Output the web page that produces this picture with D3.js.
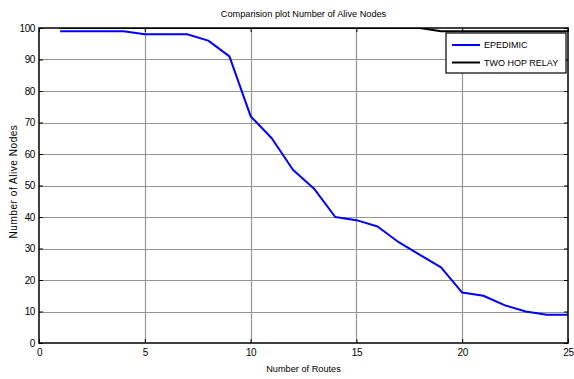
<!DOCTYPE html>
<html>
<head>
<meta charset="utf-8">
<script src="https://cdn.jsdelivr.net/npm/d3@7"></script>
<style>
  html, body { margin: 0; padding: 0; background: #fff; }
  text { font-family: "Liberation Sans", Arial, sans-serif; fill: #000; }
</style>
</head>
<body>
<svg id="chart" width="574" height="379"></svg>
<script>
// Number of routes on the x axis
const routes = [1, 2, 3, 4, 5, 6, 7, 8, 9, 10, 11, 12, 13, 14, 15, 16, 17, 18, 19, 20, 21, 22, 23, 24, 25];
// Alive nodes per protocol
const epidemic = [99, 99, 99, 99, 98, 98, 98, 96, 91, 72, 65, 55, 49, 40, 39, 37, 32, 28, 24, 16, 15, 12, 10, 9, 9];
const twoHopRelay = [100, 100, 100, 100, 100, 100, 100, 100, 100, 100, 100, 100, 100, 100, 100, 100, 100, 100, 99, 99, 99, 99, 99, 99, 99];
const xTicks = [0, 5, 10, 15, 20, 25];
const yTicks = [0, 10, 20, 30, 40, 50, 60, 70, 80, 90, 100];
const seriesNames = ["EPEDIMIC", "TWO HOP RELAY"];
const seriesColors = ["#0000ff", "#000000"];

const svg = d3.select("#chart");
const m = { left: 39, right: 6, top: 28, bottom: 36 };
const W = 574, H = 379;
const x = d3.scaleLinear().domain([0, 25]).range([m.left, W - m.right]);
const y = d3.scaleLinear().domain([0, 100]).range([H - m.bottom, m.top]);

svg.append("clipPath").attr("id", "plotClip")
  .append("rect")
  .attr("x", x(0)).attr("y", y(100))
  .attr("width", x(25) - x(0)).attr("height", y(0) - y(100));

// Grid
const grid = svg.append("g").attr("stroke", "#949494").attr("stroke-width", 1.2);
grid.selectAll("line.v").data(xTicks.slice(1, -1)).join("line")
  .attr("x1", d => Math.round(x(d)) + 0.5).attr("x2", d => Math.round(x(d)) + 0.5)
  .attr("y1", y(0)).attr("y2", y(100));
grid.selectAll("line.h").data(yTicks.slice(1, -1)).join("line")
  .attr("y1", d => Math.round(y(d)) + 0.5).attr("y2", d => Math.round(y(d)) + 0.5)
  .attr("x1", x(0)).attr("x2", x(25));

// Series lines
const line = d3.line().x((d, i) => x(routes[i])).y(d => y(d));
const plot = svg.append("g").attr("clip-path", "url(#plotClip)");
[epidemic, twoHopRelay].forEach((s, k) => {
  plot.append("path").datum(s)
    .attr("fill", "none")
    .attr("stroke", seriesColors[k])
    .attr("stroke-width", 2)
    .attr("stroke-linejoin", "round")
    .attr("d", line);
});

// Axes with inward ticks on all four sides
const tickLen = 4;
const axB = svg.append("g").attr("transform", `translate(0,${y(0)})`)
  .call(d3.axisBottom(x).tickValues(xTicks).tickSizeInner(-tickLen).tickSizeOuter(0).tickPadding(6));
const axT = svg.append("g").attr("transform", `translate(0,${y(100)})`)
  .call(d3.axisTop(x).tickValues(xTicks).tickSizeInner(-tickLen).tickSizeOuter(0).tickFormat(""));
const axL = svg.append("g").attr("transform", `translate(${x(0)},0)`)
  .call(d3.axisLeft(y).tickValues(yTicks).tickSizeInner(-tickLen).tickSizeOuter(0).tickPadding(4));
const axR = svg.append("g").attr("transform", `translate(${x(25)},0)`)
  .call(d3.axisRight(y).tickValues(yTicks).tickSizeInner(-tickLen).tickSizeOuter(0).tickFormat(""));
[axB, axT, axL, axR].forEach(a => {
  a.select(".domain").remove();
  a.selectAll(".tick line").attr("stroke", "#000").attr("stroke-width", 1);
  a.selectAll("text").attr("font-size", 10).attr("font-family", "Liberation Sans, Arial, sans-serif")
    .attr("letter-spacing", -0.4);
});
axB.selectAll("text").attr("dy", "0.71em");

// Frame
svg.append("rect")
  .attr("x", x(0)).attr("y", y(100))
  .attr("width", x(25) - x(0)).attr("height", y(0) - y(100))
  .attr("fill", "none").attr("stroke", "#000").attr("stroke-width", 1.5);

// Titles
svg.append("text").attr("x", (x(0) + x(25)) / 2).attr("y", 17)
  .attr("text-anchor", "middle").attr("font-size", 9.2)
  .text("Comparision plot Number of Alive Nodes");
svg.append("text").attr("x", (x(0) + x(25)) / 2).attr("y", 372)
  .attr("text-anchor", "middle").attr("font-size", 9.2)
  .text("Number of Routes");
svg.append("text")
  .attr("transform", `translate(16.5,${(y(0) + y(100)) / 2 - 4}) rotate(-90)`)
  .attr("text-anchor", "middle").attr("font-size", 10)
  .attr("letter-spacing", 0.55)
  .text("Number of Alive Nodes");

// Legend
const lg = svg.append("g").attr("transform", "translate(446,33)");
lg.append("rect").attr("width", 120).attr("height", 40)
  .attr("fill", "#fff").attr("stroke", "#000").attr("stroke-width", 1.2);
seriesNames.forEach((n, i) => {
  const yy = 12 + i * 17.5;
  lg.append("line").attr("x1", 6).attr("x2", 34).attr("y1", yy).attr("y2", yy)
    .attr("stroke", seriesColors[i]).attr("stroke-width", 2);
  lg.append("text").attr("x", 38).attr("y", yy).attr("dy", "0.35em")
    .attr("font-size", 9).text(n);
});
</script>
</body>
</html>
